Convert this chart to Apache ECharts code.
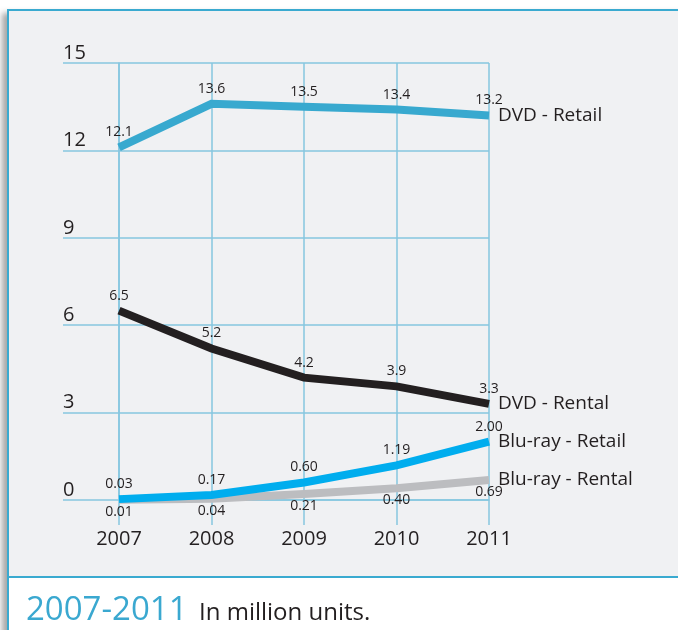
<!DOCTYPE html>
<html>
<head>
<meta charset="utf-8">
<script src="https://cdn.jsdelivr.net/npm/echarts@6/dist/echarts.min.js"></script>
<style>
  html, body { margin: 0; padding: 0; background: #ffffff; width: 678px; height: 630px; overflow: hidden; }
  #frame { position: absolute; left: 7px; top: 9px; width: 700px; height: 640px;
           border-left: 2.5px solid #3aaad0; border-top: 2.5px solid #3aaad0;
           box-shadow: -5px 4px 6px rgba(0,0,0,0.35); background: #ffffff; }
  #panel { position: absolute; left: 0; top: 0; width: 700px; height: 565px;
           background: #f0f1f3; border-bottom: 2.5px solid #3aaad0; }
  #chart { position: absolute; left: 0; top: 0; width: 678px; height: 630px; }
</style>
</head>
<body>
<div id="frame"><div id="panel"></div></div>
<div id="chart"></div>
<script>
const years = ['2007', '2008', '2009', '2010', '2011'];
const yTicks = [0, 3, 6, 9, 12, 15];
const dvdRetail = [12.1, 13.6, 13.5, 13.4, 13.2];
const dvdRental = [6.5, 5.2, 4.2, 3.9, 3.3];
const blurayRental = [0.01, 0.04, 0.21, 0.40, 0.69];
const blurayRetail = [0.03, 0.17, 0.60, 1.19, 2.00];
const dvdRetailLabels = ['12.1', '13.6', '13.5', '13.4', '13.2'];
const dvdRentalLabels = ['6.5', '5.2', '4.2', '3.9', '3.3'];
const blurayRentalLabels = ['0.01', '0.04', '0.21', '0.40', '0.69'];
const blurayRetailLabels = ['0.03', '0.17', '0.60', '1.19', '2.00'];

const FONT = '"Open Sans", "Noto Sans", sans-serif';
const GRID = '#86c6df';
const TXT = '#231f20';

function mkSeries(name, data, labels, color, pos) {
  return {
    name: name,
    type: 'line',
    data: data,
    symbol: 'circle',
    symbolSize: 0.1,
    showSymbol: true,
    itemStyle: { color: color },
    lineStyle: { color: color, width: 8, cap: 'butt', join: 'miter' },
    label: {
      show: true,
      position: pos,
      distance: pos === 'top' ? 8 : 5,
      fontFamily: FONT, fontSize: 14, color: TXT,
      formatter: p => labels[p.dataIndex]
    },
    endLabel: {
      show: true,
      distance: 9,
      fontFamily: FONT, fontSize: 19, color: TXT,
      formatter: name
    },
    emphasis: { disabled: true },
    animation: false
  };
}

const chart = echarts.init(document.getElementById('chart'), null, { renderer: 'canvas' });
chart.setOption({
  backgroundColor: 'transparent',
  animation: false,
  grid: { left: 119, right: 189, top: 63, bottom: 130 },
  xAxis: {
    type: 'category',
    data: years,
    boundaryGap: false,
    axisLine: { show: true, lineStyle: { color: GRID, width: 1.5 } },
    axisTick: { show: true, length: 25, lineStyle: { color: GRID, width: 1.5 } },
    splitLine: { show: true, lineStyle: { color: GRID, width: 1.5 } },
    axisLabel: { margin: 29, fontFamily: FONT, fontSize: 20, color: TXT }
  },
  yAxis: {
    type: 'value',
    min: yTicks[0],
    max: yTicks[yTicks.length - 1],
    interval: yTicks[1] - yTicks[0],
    axisLine: { show: true, lineStyle: { color: GRID, width: 1.5 } },
    axisTick: { show: true, length: 56, lineStyle: { color: GRID, width: 1.5 } },
    splitLine: { show: true, lineStyle: { color: GRID, width: 1.5 } },
    axisLabel: {
      margin: 56, align: 'left', verticalAlign: 'bottom',
      padding: [0, 0, 0, 0],
      fontFamily: FONT, fontSize: 20, color: TXT
    }
  },
  series: [
    mkSeries('DVD - Retail', dvdRetail, dvdRetailLabels, '#38a9cf', 'top'),
    mkSeries('DVD - Rental', dvdRental, dvdRentalLabels, '#231f20', 'top'),
    mkSeries('Blu-ray - Rental', blurayRental, blurayRentalLabels, '#bcbdc0', 'bottom'),
    mkSeries('Blu-ray - Retail', blurayRetail, blurayRetailLabels, '#00adee', 'top')
  ],
  graphic: [
    { type: 'text', left: 26, top: 594,
      style: { text: '2007-2011', fontFamily: FONT, fontSize: 33, fill: '#3aa8d0' } },
    { type: 'text', left: 199, top: 601,
      style: { text: 'In million units.', fontFamily: FONT, fontSize: 24, fill: TXT } }
  ]
});
</script>
</body>
</html>
